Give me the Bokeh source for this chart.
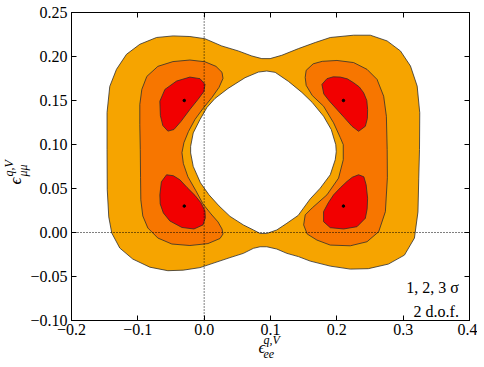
from bokeh.plotting import figure
from bokeh.models import Range1d, FixedTicker, LinearAxis, CustomJSTickFormatter, Span, Label, Title
from bokeh.embed import file_html
from bokeh.resources import INLINE

# ---------------- data ----------------
x_ticks = [-0.2, -0.1, 0.0, 0.1, 0.2, 0.3, 0.4]
y_ticks = [-0.10, -0.05, 0.00, 0.05, 0.10, 0.15, 0.20, 0.25]

# best-fit points
best_x = [-0.03, -0.03, 0.21, 0.21]
best_y = [0.15, 0.03, 0.15, 0.03]

# 3 sigma region: outer boundary
s3_out_x = [-0.1464, -0.1464, -0.1423, -0.1322, -0.1171, -0.0970, -0.0718, -0.0467, -0.0215, 0.0012,
            0.0264, 0.0515, 0.0718, 0.0869, 0.0994, 0.1171, 0.1422, 0.1674, 0.1901, 0.2253,
            0.2505, 0.2758, 0.2959, 0.3110, 0.3211, 0.3250, 0.3246, 0.3235, 0.3223, 0.3170,
            0.3019, 0.2777, 0.2475, 0.2203, 0.1901, 0.1599, 0.1422, 0.1247, 0.1095, 0.0944,
            0.0843, 0.0742, 0.0591, 0.0390, 0.0163, -0.0063, -0.0316, -0.0547, -0.0819, -0.1076,
            -0.1272, -0.1393, -0.1438, -0.1461]
s3_out_y = [0.0941, 0.1364, 0.1660, 0.1854, 0.2025, 0.2139, 0.2216, 0.2234, 0.2227, 0.2202,
            0.2120, 0.2063, 0.2006, 0.1976, 0.1976, 0.2014, 0.2090, 0.2159, 0.2216, 0.2242,
            0.2242, 0.2177, 0.2063, 0.1892, 0.1664, 0.1360, 0.0941, 0.0618, 0.0234, -0.0063,
            -0.0257, -0.0359, -0.0411, -0.0416, -0.0382, -0.0325, -0.0274, -0.0237, -0.0188, -0.0162,
            -0.0162, -0.0180, -0.0237, -0.0285, -0.0342, -0.0399, -0.0428, -0.0434, -0.0394, -0.0302,
            -0.0177, -0.0006, 0.0177, 0.0485]

# 3 sigma region: inner (excluded) hole
s3_hole_x = [0.0944, 0.1070, 0.1271, 0.1473, 0.1629, 0.1800, 0.1916, 0.1984, 0.1991, 0.1976,
             0.1901, 0.1750, 0.1599, 0.1417, 0.1247, 0.1095, 0.0944, 0.0843, 0.0742, 0.0591,
             0.0390, 0.0224, 0.0073, -0.0056, -0.0165, -0.0204, -0.0204, -0.0165, -0.0063, 0.0042,
             0.0163, 0.0360, 0.0616, 0.0817]
s3_hole_y = [0.1835, 0.1820, 0.1717, 0.1592, 0.1478, 0.1321, 0.1170, 0.0998, 0.0918, 0.0827,
             0.0656, 0.0504, 0.0382, 0.0194, 0.0105, 0.0029, -0.0011, -0.0011, 0.0029, 0.0086,
             0.0183, 0.0302, 0.0428, 0.0565, 0.0751, 0.0904, 0.0979, 0.1132, 0.1284, 0.1421,
             0.1523, 0.1637, 0.1759, 0.1823]

# 2 sigma regions
s2_left_x = [-0.0864, -0.0698, -0.0471, -0.0215, 0.0012, 0.0178, 0.0269, 0.0284, 0.0224, 0.0118,
             -0.0018, -0.0139, -0.0237, -0.0305, -0.0335, -0.0313, -0.0245, -0.0124, -0.0018, 0.0103,
             0.0209, 0.0269, 0.0284, 0.0239, 0.0057, -0.0215, -0.0487, -0.0698, -0.0849, -0.0925,
             -0.0955, -0.0959, -0.0963, -0.0970, -0.0970, -0.0940]
s2_left_y = [0.1774, 0.1888, 0.1942, 0.1960, 0.1940, 0.1888, 0.1820, 0.1751, 0.1649, 0.1535,
             0.1409, 0.1284, 0.1147, 0.1021, 0.0907, 0.0782, 0.0633, 0.0474, 0.0325, 0.0211,
             0.0120, 0.0040, -0.0017, -0.0068, -0.0126, -0.0148, -0.0131, -0.0063, 0.0051, 0.0188,
             0.0371, 0.0622, 0.0941, 0.1227, 0.1455, 0.1626]
s2_right_x = [0.1538, 0.1644, 0.1780, 0.2002, 0.2253, 0.2455, 0.2606, 0.2706, 0.2747, 0.2759,
              0.2762, 0.2732, 0.2631, 0.2455, 0.2203, 0.1901, 0.1700, 0.1553, 0.1500, 0.1523,
              0.1629, 0.1851, 0.2026, 0.2097, 0.2097, 0.2052, 0.1951, 0.1800, 0.1629, 0.1538,
              0.1523]
s2_right_y = [0.1843, 0.1917, 0.1945, 0.1955, 0.1931, 0.1854, 0.1740, 0.1549, 0.1321, 0.0941,
              0.0622, 0.0237, 0.0009, -0.0105, -0.0151, -0.0143, -0.0086, -0.0017, 0.0086, 0.0200,
              0.0280, 0.0428, 0.0618, 0.0827, 0.0998, 0.1078, 0.1246, 0.1435, 0.1557, 0.1672,
              0.1763]

# 1 sigma regions
s1_tl_x = [-0.0668, -0.0592, -0.0416, -0.0215, -0.0063, 0.0012, -0.0003, -0.0094, -0.0215, -0.0351,
           -0.0456, -0.0547, -0.0623, -0.0660]
s1_tl_y = [0.1492, 0.1626, 0.1721, 0.1766, 0.1748, 0.1683, 0.1603, 0.1512, 0.1398, 0.1261,
           0.1170, 0.1152, 0.1215, 0.1329]
s1_bl_x = [-0.0668, -0.0645, -0.0567, -0.0464, -0.0366, -0.0260, -0.0139, -0.0048, 0.0012, 0.0017,
           -0.0018, -0.0154, -0.0335, -0.0517, -0.0615, -0.0663]
s1_bl_y = [0.0428, 0.0576, 0.0656, 0.0645, 0.0599, 0.0513, 0.0422, 0.0337, 0.0245, 0.0165,
           0.0086, 0.0040, 0.0057, 0.0131, 0.0222, 0.0325]
s1_tr_x = [0.1775, 0.1851, 0.1946, 0.2052, 0.2158, 0.2253, 0.2339, 0.2404, 0.2452, 0.2464,
           0.2460, 0.2430, 0.2328, 0.2229, 0.2112, 0.2002, 0.1886, 0.1803]
s1_tr_y = [0.1683, 0.1748, 0.1769, 0.1766, 0.1746, 0.1702, 0.1654, 0.1588, 0.1500, 0.1398,
           0.1295, 0.1207, 0.1150, 0.1207, 0.1306, 0.1398, 0.1495, 0.1575]
s1_br_x = [0.1800, 0.1871, 0.1951, 0.2052, 0.2153, 0.2233, 0.2328, 0.2407, 0.2442, 0.2464,
           0.2457, 0.2430, 0.2304, 0.2102, 0.1901, 0.1800]
s1_br_y = [0.0237, 0.0337, 0.0428, 0.0508, 0.0580, 0.0628, 0.0656, 0.0633, 0.0542, 0.0390,
           0.0268, 0.0162, 0.0066, 0.0040, 0.0055, 0.0123]

# axis label pieces
x_label_main = "\u03f5"
x_label_sup, x_label_sub = "q,V", "ee"
y_label_main = "\u03f5"
y_label_sup, y_label_sub = "q,V", "\u03bc\u03bc"

# ---------------- styling ----------------
C3 = "#f6a400"
C2 = "#f77600"
C1 = "#f20000"
EDGE = "#2e2e2e"
FONT = "Liberation Serif"
NB = "\u00a0"

p = figure(width=477, height=367, x_range=Range1d(-0.2, 0.4), y_range=Range1d(-0.1, 0.25),
           output_backend="svg", toolbar_location=None,
           min_border_left=71, min_border_right=8, min_border_top=12, min_border_bottom=47)
p.grid.visible = False
p.outline_line_color = "black"
p.outline_line_width = 1
p.background_fill_color = "white"
p.border_fill_color = "white"

fmt_x = "return tick.toFixed(1).replace('-', '\\u2212');"
fmt_y = "return tick.toFixed(2).replace('-', '\\u2212');"


def style(ax, ticks, fmt, show, standoff=4):
    ax.ticker = FixedTicker(ticks=ticks, minor_ticks=[])
    ax.formatter = CustomJSTickFormatter(code=fmt)
    ax.major_tick_in = 5
    ax.major_tick_out = 0
    ax.minor_tick_in = 0
    ax.minor_tick_out = 0
    ax.axis_line_color = "black"
    ax.major_tick_line_color = "black"
    ax.major_label_text_font = FONT
    ax.major_label_text_font_size = "16px" if show else "0px"
    if not show:
        ax.major_label_text_color = None
        ax.major_label_standoff = 0
    else:
        ax.major_label_standoff = standoff
        ax.major_label_text_color = "black"


xb = p.below[0]
yl = p.left[0]
style(xb, x_ticks, fmt_x, True, 3)
style(yl, y_ticks, fmt_y, True, 4)
top_ax = LinearAxis()
right_ax = LinearAxis()
style(top_ax, x_ticks, fmt_x, False)
style(right_ax, y_ticks, fmt_y, False)
p.add_layout(top_ax, "above")
p.add_layout(right_ax, "right")

# x label: main symbol as the axis label (padding shifts it left of centre)
xb.axis_label = x_label_main + "\u2003"
xb.axis_label_text_font = FONT
xb.axis_label_text_font_style = "italic"
xb.axis_label_text_font_size = "17px"
xb.axis_label_text_color = "black"
xb.axis_label_standoff = 0

# x label super/subscripts
p.add_layout(Title(text=x_label_sup + "\n" + x_label_sub + "\n" + NB + "\n" + NB,
                   align="left", offset=192, vertical_align="top", standoff=-54,
                   text_font=FONT, text_font_style="italic", text_font_size="12px",
                   text_line_height=1.0, text_color="black"), "below")

# y label (rotated): main symbol, then super/subscripts
p.add_layout(Title(text=y_label_main + "\n" + NB,
                   align="left", offset=136, vertical_align="bottom", standoff=-33,
                   text_font=FONT, text_font_style="italic", text_font_size="17px",
                   text_line_height=1.0, text_color="black"), "left")
p.add_layout(Title(text=y_label_sup + "\n" + y_label_sub,
                   align="left", offset=144, vertical_align="bottom", standoff=-19,
                   text_font=FONT, text_font_style="italic", text_font_size="12px",
                   text_line_height=1.0, text_color="black"), "left")

# contour regions
p.multi_polygons(xs=[[[s3_out_x, s3_hole_x]]], ys=[[[s3_out_y, s3_hole_y]]],
                 fill_color=C3, line_color=EDGE, line_width=0.8)
p.patches(xs=[s2_left_x, s2_right_x], ys=[s2_left_y, s2_right_y],
          fill_color=C2, line_color=EDGE, line_width=0.8)
p.patches(xs=[s1_tl_x, s1_bl_x, s1_tr_x, s1_br_x], ys=[s1_tl_y, s1_bl_y, s1_tr_y, s1_br_y],
          fill_color=C1, line_color=EDGE, line_width=0.8)
p.scatter(best_x, best_y, size=2.5, color="black")

# dotted zero lines
p.add_layout(Span(location=0, dimension="height", line_color="black", line_width=1, line_dash="1 2"))
p.add_layout(Span(location=0, dimension="width", line_color="black", line_width=1, line_dash="1 2"))

# annotations inside the frame
p.add_layout(Label(x=0.384, y=-0.062, text="1, 2, 3 \u03c3", text_align="right", text_color="black",
                   text_baseline="alphabetic", text_font=FONT, text_font_size="16px"))
p.add_layout(Label(x=0.384, y=-0.0896, text="2 d.o.f.", text_align="right", text_color="black",
                   text_baseline="alphabetic", text_font=FONT, text_font_size="16px"))

open("out.html", "w").write(file_html(p, INLINE))
